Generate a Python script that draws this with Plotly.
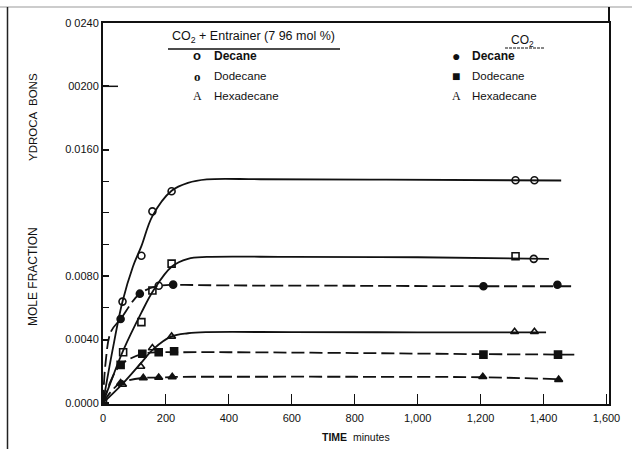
import plotly.graph_objects as go

# ---------------- data ----------------
# measured points (time in minutes, mole fraction)
dec_ent_t = [62, 122, 157, 218, 1311, 1371]
dec_ent_v = [0.0064, 0.0093, 0.0121, 0.01337, 0.01407, 0.01407]

dod_ent_t = [0, 64, 122, 157, 177, 218, 1311, 1369]
dod_ent_v = [0.0, 0.0032, 0.0051, 0.0071, 0.0074, 0.0088, 0.00926, 0.0091]
dod_ent_sym = ["square-open", "square-open", "square-open", "square-open",
               "circle-open", "square-open", "square-open", "circle-open"]

hex_ent_t = [62, 120, 157, 218, 1308, 1371]
hex_ent_v = [0.00116, 0.0023, 0.00347, 0.0042, 0.00449, 0.00449]

dec_co2_t = [56, 117, 223, 1209, 1444]
dec_co2_v = [0.0053, 0.0069, 0.00747, 0.00737, 0.00746]

dod_co2_t = [56, 125, 177, 226, 1209, 1446]
dod_co2_v = [0.0024, 0.0031, 0.0032, 0.00326, 0.00305, 0.00305]

hex_co2_t = [56, 128, 177, 220, 1207, 1448]
hex_co2_v = [0.00126, 0.00158, 0.0016, 0.00164, 0.00165, 0.00147]

# hand-drawn fitted curves (knots)
c_dec_ent_t = [0, 30, 62, 95, 122, 157, 218, 270, 330, 500, 900, 1456]
c_dec_ent_v = [0, 0.0033, 0.0064, 0.0086, 0.0099, 0.0118, 0.0134, 0.0139, 0.01412, 0.01413, 0.0141, 0.01405]

c_dod_ent_t = [0, 30, 64, 122, 160, 218, 270, 330, 600, 1000, 1417]
c_dod_ent_v = [0, 0.0016, 0.0033, 0.0057, 0.0071, 0.0086, 0.0091, 0.00922, 0.00922, 0.0092, 0.0091]

c_hex_ent_t = [0, 62, 120, 160, 218, 270, 330, 600, 1000, 1408]
c_hex_ent_v = [0, 0.0012, 0.0025, 0.0034, 0.0042, 0.0044, 0.00447, 0.00447, 0.00446, 0.00446]

c_dec_co2_t = [0, 8, 25, 56, 117, 180, 240, 400, 800, 1200, 1500]
c_dec_co2_v = [0, 0.0025, 0.0045, 0.0053, 0.0069, 0.0074, 0.00745, 0.00742, 0.0074, 0.00737, 0.00737]

c_dod_co2_t = [0, 25, 56, 125, 177, 226, 400, 800, 1200, 1509]
c_dod_co2_v = [0, 0.0014, 0.0024, 0.0031, 0.0032, 0.0032, 0.0032, 0.00315, 0.00308, 0.00305]

c_hex_co2_t = [0, 25, 56, 128, 177, 226, 400, 800, 1200, 1448]
c_hex_co2_v = [0, 0.0007, 0.00126, 0.00158, 0.0016, 0.00164, 0.00165, 0.00165, 0.00162, 0.0015]

x_ticks = [0, 200, 400, 600, 800, 1000, 1200, 1400, 1600]
x_ticktext = ["0", "200", "400", "600", "800", "1,000", "1,200", "1,400", "1,600"]
y_ticks = [0, 0.004, 0.008, 0.016, 0.020, 0.024]
y_ticktext = ["0.0000", "0.0040", "0.0080", "0.0160", "00200", "0 0240"]
y_minor_ticks = [0.006, 0.010, 0.012, 0.014]

FONT = "Liberation Sans, Arial, sans-serif"
BLACK = "#111111"
DASH = "13px,5px"

fig = go.Figure()

def curve(t, v, dash):
    fig.add_trace(go.Scatter(x=t, y=v, mode="lines",
                             line=dict(color=BLACK, width=1.8, dash=dash,
                                       shape="spline", smoothing=1.0),
                             hoverinfo="skip", showlegend=False))

curve(c_dec_ent_t, c_dec_ent_v, "solid")
curve(c_dod_ent_t, c_dod_ent_v, "solid")
curve(c_hex_ent_t, c_hex_ent_v, "solid")
curve(c_dec_co2_t, c_dec_co2_v, DASH)
curve(c_dod_co2_t, c_dod_co2_v, DASH)
curve(c_hex_co2_t, c_hex_co2_v, DASH)

def pts(t, v, sym, size=7):
    fig.add_trace(go.Scatter(
        x=t, y=v, mode="markers",
        marker=dict(symbol=sym, size=size, color=BLACK,
                    line=dict(color=BLACK, width=1.6)),
        showlegend=False))

pts(dec_ent_t, dec_ent_v, "circle-open")
pts(dod_ent_t, dod_ent_v, dod_ent_sym)
pts(hex_ent_t, hex_ent_v, "triangle-up-open")
pts(dec_co2_t, dec_co2_v, "circle")
pts(dod_co2_t, dod_co2_v, "square")
pts(hex_co2_t, hex_co2_v, "triangle-up")

# pixel -> paper helpers (plot area: x 103..609, y 23..404)
def px(x):
    return (x - 103) / 506.0

def py(y):
    return (404 - y) / 381.0

ann = []
def text(x, y, s, size=10, xanchor="center", family=FONT, angle=0):
    ann.append(dict(x=px(x), y=py(y), xref="paper", yref="paper", text=s,
                    showarrow=False, xanchor=xanchor, yanchor="middle",
                    textangle=angle, font=dict(family=family, size=size, color=BLACK)))

# legend block
text(253, 37, "CO<sub>2</sub> + Entrainer (7 96 mol %)", size=12.5)
text(197, 56, "<b>o</b>", size=13)
text(212, 56, "<b>Decane</b>", size=12, xanchor="left")
text(197, 76, "<b>o</b>", size=13, family="Liberation Serif, serif")
text(212, 76, "Dodecane", size=11.5, xanchor="left")
text(197, 96, "A", size=12, family="Liberation Serif, serif")
text(212, 96, "Hexadecane", size=11.5, xanchor="left")

text(522, 41, "CO<sub>2</sub>", size=12)
text(456, 56, "\u25CF", size=14)
text(470, 56, "<b>Decane</b>", size=12, xanchor="left")
text(456, 76, "\u25A0", size=14)
text(470, 76, "Dodecane", size=11.5, xanchor="left")
text(456, 96, "A", size=12, family="Liberation Serif, serif")
text(470, 96, "Hexadecane", size=11.5, xanchor="left")

# axis titles
text(356, 437, "<b>TIME</b>  minutes", size=10.5)
text(33, 277, "MOLE FRACTION", size=12, angle=-90)
text(33, 117, "YDROCA  BONS", size=11.5, angle=-90)

shapes = [
    # outer page lines
    dict(type="line", xref="paper", yref="paper", x0=px(0), x1=px(632), y0=py(7), y1=py(7),
         line=dict(color="#999999", width=1)),
    dict(type="line", xref="paper", yref="paper", x0=px(7.5), x1=px(7.5), y0=py(7), y1=py(449),
         line=dict(color="#222222", width=1.5)),
    dict(type="line", xref="paper", yref="paper", x0=1, x1=1, y0=1, y1=py(7),
         line=dict(color=BLACK, width=2)),
    # long tick at 0.020
    dict(type="line", xref="paper", yref="y", x0=0, x1=px(118), y0=0.020, y1=0.020,
         line=dict(color=BLACK, width=1.5)),
    # legend underlines
    dict(type="line", xref="paper", yref="paper", x0=px(168), x1=px(340), y0=py(49), y1=py(49),
         line=dict(color=BLACK, width=1.5)),
    dict(type="line", xref="paper", yref="paper", x0=px(505), x1=px(545), y0=py(48), y1=py(48),
         line=dict(color=BLACK, width=1, dash="3px,1px")),
]

fig.update_layout(
    width=632, height=449, autosize=False,
    margin=dict(l=103, r=23, t=23, b=45, pad=0),
    paper_bgcolor="white", plot_bgcolor="white",
    font=dict(family=FONT, size=10, color=BLACK),
    showlegend=False,
    annotations=ann, shapes=shapes,
    xaxis=dict(range=[0, 1608], tickvals=x_ticks, ticktext=x_ticktext,
               ticks="inside", ticklen=10, tickwidth=1.2, tickcolor=BLACK,
               ticklabelstandoff=3,
               showline=True, linewidth=2, linecolor=BLACK, mirror=True,
               showgrid=False, zeroline=False,
               tickfont=dict(family=FONT, size=11, color=BLACK)),
    yaxis=dict(range=[-0.00007, 0.024], tickvals=y_ticks, ticktext=y_ticktext,
               ticks="inside", ticklen=6, tickwidth=1.5, tickcolor=BLACK,
               minor=dict(tickmode="array", tickvals=y_minor_ticks, ticks="inside",
                          ticklen=6, tickwidth=1.2, tickcolor=BLACK, showgrid=False),
               showline=True, linewidth=2, linecolor=BLACK, mirror=True,
               showgrid=False, zeroline=False,
               tickfont=dict(family=FONT, size=11, color=BLACK)),
)

fig.write_html("out.html")
